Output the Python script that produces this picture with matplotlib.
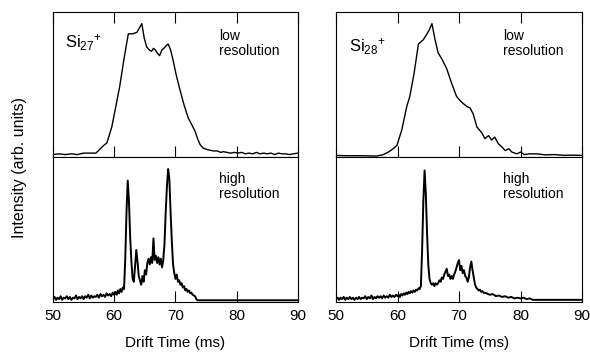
import matplotlib
matplotlib.use("Agg")
import matplotlib.pyplot as plt

plt.rcParams['font.family'] = ['Liberation Sans', 'DejaVu Sans']
plt.rcParams['mathtext.default'] = 'regular'

# low resolution, Si27+
lr27_t = [50, 51, 52, 53, 54, 55, 56, 57, 57.5, 58.2, 58.8, 59.6, 60.3, 60.9, 61.6, 62.3,
          63.0, 63.7, 64.1, 64.5, 64.9, 65.3, 65.7, 66.1, 66.4, 66.7, 67.0, 67.4, 67.8,
          68.1, 68.5, 68.8, 69.2, 69.6, 70.1, 70.7, 71.4, 72.1, 72.6, 73.2, 73.6, 74.0,
          74.5, 75.1, 75.6, 76.2, 76.8, 77.4, 77.8, 78.4, 79.0, 79.6, 80.2, 80.8, 81.4,
          82.0, 82.6, 83.2, 83.8, 84.4, 85.0, 85.6, 86.2, 86.8, 87.4, 88.0, 88.6, 89.2, 90]
lr27_y = [0.02, 0.025, 0.02, 0.025, 0.02, 0.03, 0.03, 0.03, 0.05, 0.08, 0.10, 0.21, 0.36,
          0.49, 0.68, 0.85, 0.85, 0.86, 0.89, 0.92, 0.82, 0.76, 0.74, 0.73, 0.75, 0.74,
          0.72, 0.70, 0.74, 0.75, 0.77, 0.78, 0.74, 0.67, 0.57, 0.47, 0.36, 0.27, 0.23,
          0.18, 0.13, 0.09, 0.065, 0.055, 0.05, 0.045, 0.045, 0.035, 0.04, 0.035, 0.03,
          0.035, 0.03, 0.035, 0.025, 0.03, 0.025, 0.035, 0.025, 0.03, 0.025, 0.03, 0.02,
          0.03, 0.025, 0.025, 0.02, 0.025, 0.03]

# low resolution, Si28+
lr28_t = [50, 52, 54, 56.6, 57.6, 58.5, 59.3, 59.9, 60.7, 61.5, 62.0, 62.7, 63.4, 64.2,
          64.8, 65.2, 65.6, 66.1, 66.6, 67.3, 68.0, 68.8, 69.6, 70.2, 70.7, 71.3, 71.8,
          72.3, 72.9, 73.3, 73.7, 74.2, 74.8, 75.3, 75.8, 76.4, 77.0, 77.5, 78.1, 78.6,
          79.4, 80.0, 80.6, 81.4, 82.7, 84.0, 85.5, 87.0, 88.5, 90]
lr28_y = [0.014, 0.012, 0.012, 0.01, 0.018, 0.037, 0.06, 0.083, 0.19, 0.35, 0.42, 0.58,
          0.78, 0.81, 0.85, 0.88, 0.92, 0.81, 0.72, 0.67, 0.61, 0.51, 0.42, 0.39, 0.37,
          0.35, 0.34, 0.30, 0.21, 0.19, 0.17, 0.13, 0.15, 0.12, 0.14, 0.094, 0.071, 0.048,
          0.06, 0.037, 0.025, 0.037, 0.02, 0.025, 0.025, 0.018, 0.02, 0.015, 0.016, 0.014]

# high resolution, Si27+
hr27_t = [50.0, 50.25, 50.5, 50.75, 51.0, 51.25, 51.5, 51.75, 52.0, 52.25, 52.5, 52.75,
          53.0, 53.25, 53.5, 53.75, 54.0, 54.25, 54.5, 54.75, 55.0, 55.25, 55.5, 55.75,
          56.0, 56.25, 56.5, 56.75, 57.0, 57.25, 57.5, 57.75, 58.0, 58.25, 58.5, 58.75,
          59.0, 59.25, 59.5, 59.75,
          60.0, 60.2, 60.4, 60.6, 60.8, 61.0, 61.2, 61.4, 61.6, 61.8, 62.0, 62.2, 62.4,
          62.6, 62.8, 63.0, 63.2, 63.4, 63.6, 63.8, 64.0, 64.2, 64.4, 64.6, 64.8, 65.0,
          65.2, 65.4, 65.6, 65.8, 66.0, 66.2, 66.4, 66.6, 66.8, 67.0, 67.2, 67.4, 67.6,
          67.8, 68.0, 68.2, 68.4, 68.6, 68.8, 69.0, 69.2, 69.4, 69.6, 69.8, 70.0, 70.2,
          70.4, 70.6, 70.8, 71.0, 71.2, 71.4, 71.6, 71.8, 72.0, 72.2, 72.4, 72.6, 72.8,
          73.0, 73.2, 73.4, 73.6, 90.0]
hr27_y = [0.02, 0.035, 0.015, 0.03, 0.02, 0.04, 0.015, 0.03, 0.025, 0.04, 0.02, 0.035,
          0.015, 0.03, 0.025, 0.045, 0.02, 0.035, 0.025, 0.04, 0.02, 0.04, 0.03, 0.05,
          0.025, 0.045, 0.03, 0.04, 0.035, 0.05, 0.03, 0.055, 0.04, 0.05, 0.035, 0.06,
          0.045, 0.055, 0.04, 0.065,
          0.05, 0.07, 0.05, 0.08, 0.06, 0.09, 0.07, 0.10, 0.09, 0.30, 0.62, 0.84, 0.70,
          0.45, 0.28, 0.16, 0.14, 0.25, 0.36, 0.28, 0.18, 0.15, 0.12, 0.18, 0.14, 0.22,
          0.19, 0.27, 0.30, 0.26, 0.31, 0.27, 0.44, 0.29, 0.32, 0.27, 0.31, 0.26, 0.30,
          0.24, 0.29, 0.40, 0.62, 0.80, 0.92, 0.85, 0.62, 0.42, 0.26, 0.20, 0.16, 0.19,
          0.14, 0.15, 0.12, 0.13, 0.10, 0.11, 0.08, 0.09, 0.07, 0.08, 0.06, 0.065, 0.05,
          0.045, 0.04, 0.02, 0.012, 0.012]

# high resolution, Si28+
hr28_t = [50.0, 50.25, 50.5, 50.75, 51.0, 51.25, 51.5, 51.75, 52.0, 52.25, 52.5, 52.75,
          53.0, 53.25, 53.5, 53.75, 54.0, 54.25, 54.5, 54.75, 55.0, 55.25, 55.5, 55.75,
          56.0, 56.25, 56.5, 56.75, 57.0, 57.25, 57.5, 57.75, 58.0, 58.25, 58.5, 58.75,
          59.0, 59.25, 59.5, 59.75,
          60.0, 60.2, 60.4, 60.6, 60.8, 61.0, 61.2, 61.4, 61.6, 61.8, 62.0, 62.2, 62.4,
          62.6, 62.8, 63.0, 63.2, 63.4, 63.6, 63.8, 64.0, 64.2, 64.4, 64.6, 64.8, 65.0,
          65.2, 65.4, 65.6, 65.8, 66.0, 66.2, 66.4, 66.6, 66.8, 67.0, 67.2, 67.4, 67.6,
          67.8, 68.0, 68.2, 68.4, 68.6, 68.8, 69.0, 69.2, 69.4, 69.6, 69.8, 70.0, 70.2,
          70.4, 70.6, 70.8, 71.0, 71.2, 71.4, 71.6, 71.8, 72.0, 72.2, 72.4, 72.6, 72.8,
          73.0, 73.2, 73.4, 73.6, 73.8, 74.0, 74.5, 75.0, 75.5, 76.0, 76.5, 77.0, 77.5,
          78.0, 78.5, 79.0, 79.5, 80.0, 80.5, 81.0, 81.5, 82.0, 90.0]
hr28_y = [0.02, 0.03, 0.015, 0.03, 0.02, 0.035, 0.015, 0.03, 0.02, 0.035, 0.02, 0.03,
          0.015, 0.03, 0.02, 0.035, 0.02, 0.03, 0.025, 0.04, 0.02, 0.035, 0.025, 0.045,
          0.02, 0.035, 0.025, 0.04, 0.03, 0.04, 0.025, 0.045, 0.03, 0.04, 0.03, 0.05,
          0.035, 0.045, 0.035, 0.05,
          0.04, 0.05, 0.035, 0.055, 0.045, 0.06, 0.05, 0.065, 0.055, 0.07, 0.06, 0.075,
          0.065, 0.08, 0.07, 0.085, 0.08, 0.095, 0.09, 0.11, 0.36, 0.70, 0.91, 0.75, 0.48,
          0.26, 0.16, 0.13, 0.12, 0.13, 0.11, 0.13, 0.12, 0.13, 0.15, 0.14, 0.17, 0.16,
          0.19, 0.21, 0.23, 0.18, 0.19, 0.16, 0.18, 0.16, 0.19, 0.21, 0.24, 0.27, 0.29,
          0.22, 0.25, 0.20, 0.22, 0.18, 0.17, 0.14, 0.17, 0.24, 0.28, 0.22, 0.17, 0.12,
          0.10, 0.09, 0.08, 0.085, 0.07, 0.075, 0.065, 0.06, 0.05, 0.055, 0.04, 0.045,
          0.035, 0.04, 0.03, 0.035, 0.025, 0.03, 0.025, 0.03, 0.02, 0.025, 0.015, 0.015]

ion_labels = ['Si$_{27}$$^{+}$', 'Si$_{28}$$^{+}$']
xticks = [50, 60, 70, 80, 90]

fig = plt.figure(figsize=(5.9, 3.52), dpi=100)

cols = [(0.0898, 0.4153), (0.5695, 0.4170)]
top_data = [(lr27_t, lr27_y), (lr28_t, lr28_y)]
bot_data = [(hr27_t, hr27_y), (hr28_t, hr28_y)]
label_pos = [(0.049, 0.86), (0.053, 0.83)]

for i in range(2):
    x0, w = cols[i]
    ax_top = fig.add_axes([x0, 0.5526, w, 0.4133])
    ax_bot = fig.add_axes([x0, 0.142, w, 0.4106])

    ax_top.plot(top_data[i][0], top_data[i][1], color='black', lw=1.0)
    ax_bot.plot(bot_data[i][0], bot_data[i][1], color='black', lw=1.4)

    for ax in (ax_top, ax_bot):
        ax.set_xlim(50, 90)
        ax.set_ylim(0, 1)
        ax.set_yticks([])
        ax.set_xticks(xticks)
        for s in ax.spines.values():
            s.set_linewidth(0.8)
        ax.tick_params(axis='x', direction='in', length=8, width=0.8,
                       labelsize=11, pad=5)

    ax_top.tick_params(axis='x', top=True, bottom=True, labelbottom=False)
    ax_bot.tick_params(axis='x', top=False, bottom=True)

    ax_top.text(label_pos[i][0], label_pos[i][1], ion_labels[i], transform=ax_top.transAxes,
                fontsize=12, va='top', ha='left')
    ax_top.text(0.678, 0.885, 'low\nresolution', transform=ax_top.transAxes,
                fontsize=10, va='top', ha='left', linespacing=1.1)
    ax_bot.text(0.678, 0.90, 'high\nresolution', transform=ax_bot.transAxes,
                fontsize=10, va='top', ha='left', linespacing=1.1)

    fig.text(x0 + w / 2, 0.026, 'Drift Time (ms)', ha='center', va='center', fontsize=11)

fig.text(0.033, 0.523, 'Intensity (arb. units)', rotation=90, ha='center', va='center',
         fontsize=11.5)

fig.savefig('out.png', dpi=100)
